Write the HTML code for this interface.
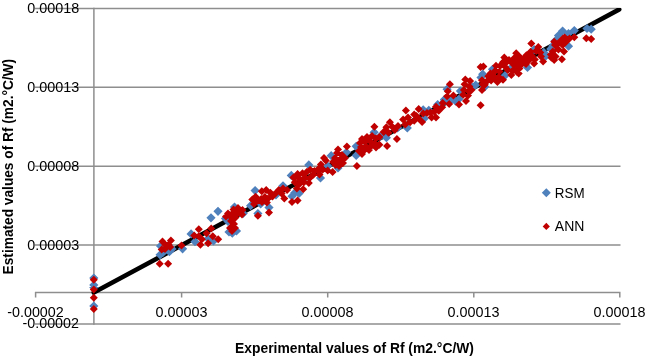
<!DOCTYPE html>
<html><head><meta charset="utf-8"><style>
html,body{margin:0;padding:0;background:#fff;}
body{width:646px;height:358px;overflow:hidden;}
svg{display:block;will-change:transform;}
text{font-family:"Liberation Sans",sans-serif;fill:#000;}
.t{font-size:14px;}
.b{font-size:14.2px;font-weight:bold;}
</style></head><body>
<svg width="646" height="358" viewBox="0 0 646 358">
<rect width="646" height="358" fill="#fff"/>
<g stroke="#8e8e8e" stroke-width="1.5" fill="none">
<path d="M35 8.4H620.5M35 87.3H620.5M35 166.2H620.5M35 245.1H620.5M35 324H620.5"/>
<path d="M93.9 7.7V324.7"/>
<path d="M35 292.6H620.5M35.6 292V297.6M181.6 292V297.6M327.7 292V297.6M473.8 292V297.6M619.8 292V297.6"/>
</g>
<g class="t" text-anchor="end">
<text x="79.3" y="12.8" textLength="52" lengthAdjust="spacingAndGlyphs">0.00018</text>
<text x="79.3" y="91.8" textLength="52" lengthAdjust="spacingAndGlyphs">0.00013</text>
<text x="79.3" y="170.8" textLength="52" lengthAdjust="spacingAndGlyphs">0.00008</text>
<text x="79.3" y="249.8" textLength="52" lengthAdjust="spacingAndGlyphs">0.00003</text>
<text x="79" y="328.4" textLength="56.5" lengthAdjust="spacingAndGlyphs">-0.00002</text>
</g>
<g class="t" text-anchor="middle">
<text x="35.5" y="317.4" textLength="56.5" lengthAdjust="spacingAndGlyphs">-0.00002</text>
<text x="181.5" y="317.4" textLength="52" lengthAdjust="spacingAndGlyphs">0.00003</text>
<text x="327.5" y="317.4" textLength="52" lengthAdjust="spacingAndGlyphs">0.00008</text>
<text x="473.5" y="317.4" textLength="52" lengthAdjust="spacingAndGlyphs">0.00013</text>
<text x="619.5" y="317.4" textLength="52" lengthAdjust="spacingAndGlyphs">0.00018</text>
</g>
<text class="b" id="xt" x="235" textLength="239" lengthAdjust="spacingAndGlyphs" y="352.7">Experimental values of Rf (m2.°C/W)</text>
<text class="b" id="yt" textLength="215.5" lengthAdjust="spacingAndGlyphs" transform="translate(13.2 274.4) rotate(-90)">Estimated values of Rf (m2.°C/W)</text>
<clipPath id="pa"><rect x="30" y="8" width="600" height="320"/></clipPath>
<path clip-path="url(#pa)" d="M93.8 292.6L619.2 9.4" stroke="#000" stroke-width="4.6" stroke-linecap="round" fill="none"/>
<path fill="#4F81BD" d="M182.6 244.2l4.6 4.6 -4.6 4.6 -4.6 -4.6zM218.0 206.7l4.6 4.6 -4.6 4.6 -4.6 -4.6zM211.0 213.2l4.6 4.6 -4.6 4.6 -4.6 -4.6zM93.8 273.4l4.6 4.6 -4.6 4.6 -4.6 -4.6zM93.8 280.4l4.6 4.6 -4.6 4.6 -4.6 -4.6zM93.8 282.9l4.6 4.6 -4.6 4.6 -4.6 -4.6zM93.8 301.4l4.6 4.6 -4.6 4.6 -4.6 -4.6zM374.1 127.7l4.6 4.6 -4.6 4.6 -4.6 -4.6zM356.2 141.7l4.6 4.6 -4.6 4.6 -4.6 -4.6zM356.2 150.9l4.6 4.6 -4.6 4.6 -4.6 -4.6zM255.1 186.0l4.6 4.6 -4.6 4.6 -4.6 -4.6zM250.6 201.1l4.6 4.6 -4.6 4.6 -4.6 -4.6zM260.7 199.4l4.6 4.6 -4.6 4.6 -4.6 -4.6zM257.9 208.9l4.6 4.6 -4.6 4.6 -4.6 -4.6zM308.8 160.3l4.6 4.6 -4.6 4.6 -4.6 -4.6zM291.3 170.8l4.6 4.6 -4.6 4.6 -4.6 -4.6zM294.8 188.2l4.6 4.6 -4.6 4.6 -4.6 -4.6zM292.0 191.7l4.6 4.6 -4.6 4.6 -4.6 -4.6zM299.0 188.9l4.6 4.6 -4.6 4.6 -4.6 -4.6zM283.0 181.2l4.6 4.6 -4.6 4.6 -4.6 -4.6zM276.0 190.3l4.6 4.6 -4.6 4.6 -4.6 -4.6zM269.0 202.9l4.6 4.6 -4.6 4.6 -4.6 -4.6zM346.4 147.7l4.6 4.6 -4.6 4.6 -4.6 -4.6zM331.2 151.1l4.6 4.6 -4.6 4.6 -4.6 -4.6zM327.7 161.4l4.6 4.6 -4.6 4.6 -4.6 -4.6zM338.0 163.4l4.6 4.6 -4.6 4.6 -4.6 -4.6zM407.3 123.3l4.6 4.6 -4.6 4.6 -4.6 -4.6zM397.6 123.4l4.6 4.6 -4.6 4.6 -4.6 -4.6zM380.1 131.7l4.6 4.6 -4.6 4.6 -4.6 -4.6zM386.4 133.1l4.6 4.6 -4.6 4.6 -4.6 -4.6zM424.3 113.9l4.6 4.6 -4.6 4.6 -4.6 -4.6zM444.4 94.9l4.6 4.6 -4.6 4.6 -4.6 -4.6zM423.2 105.2l4.6 4.6 -4.6 4.6 -4.6 -4.6zM428.8 105.7l4.6 4.6 -4.6 4.6 -4.6 -4.6zM437.7 99.9l4.6 4.6 -4.6 4.6 -4.6 -4.6zM444.4 96.6l4.6 4.6 -4.6 4.6 -4.6 -4.6zM475.7 80.4l4.6 4.6 -4.6 4.6 -4.6 -4.6zM472.2 82.5l4.6 4.6 -4.6 4.6 -4.6 -4.6zM447.1 84.6l4.6 4.6 -4.6 4.6 -4.6 -4.6zM451.3 95.1l4.6 4.6 -4.6 4.6 -4.6 -4.6zM455.5 96.5l4.6 4.6 -4.6 4.6 -4.6 -4.6zM459.0 94.4l4.6 4.6 -4.6 4.6 -4.6 -4.6zM460.4 86.4l4.6 4.6 -4.6 4.6 -4.6 -4.6zM481.0 72.9l4.6 4.6 -4.6 4.6 -4.6 -4.6zM511.3 63.3l4.6 4.6 -4.6 4.6 -4.6 -4.6zM505.0 71.0l4.6 4.6 -4.6 4.6 -4.6 -4.6zM492.5 64.7l4.6 4.6 -4.6 4.6 -4.6 -4.6zM482.7 69.6l4.6 4.6 -4.6 4.6 -4.6 -4.6zM484.8 82.2l4.6 4.6 -4.6 4.6 -4.6 -4.6zM550.8 44.3l4.6 4.6 -4.6 4.6 -4.6 -4.6zM534.1 45.0l4.6 4.6 -4.6 4.6 -4.6 -4.6zM543.8 47.8l4.6 4.6 -4.6 4.6 -4.6 -4.6zM545.9 51.3l4.6 4.6 -4.6 4.6 -4.6 -4.6zM587.0 23.9l4.6 4.6 -4.6 4.6 -4.6 -4.6zM591.2 24.6l4.6 4.6 -4.6 4.6 -4.6 -4.6zM552.8 41.3l4.6 4.6 -4.6 4.6 -4.6 -4.6zM551.4 44.8l4.6 4.6 -4.6 4.6 -4.6 -4.6zM160.1 250.2l4.6 4.6 -4.6 4.6 -4.6 -4.6zM169.4 247.1l4.6 4.6 -4.6 4.6 -4.6 -4.6zM160.5 241.4l4.6 4.6 -4.6 4.6 -4.6 -4.6zM163.0 247.9l4.6 4.6 -4.6 4.6 -4.6 -4.6zM172.0 244.4l4.6 4.6 -4.6 4.6 -4.6 -4.6zM191.1 229.3l4.6 4.6 -4.6 4.6 -4.6 -4.6zM195.0 237.1l4.6 4.6 -4.6 4.6 -4.6 -4.6zM208.1 234.0l4.6 4.6 -4.6 4.6 -4.6 -4.6zM213.5 236.3l4.6 4.6 -4.6 4.6 -4.6 -4.6zM234.5 202.4l4.6 4.6 -4.6 4.6 -4.6 -4.6zM225.5 213.9l4.6 4.6 -4.6 4.6 -4.6 -4.6zM243.2 208.9l4.6 4.6 -4.6 4.6 -4.6 -4.6zM232.3 228.6l4.6 4.6 -4.6 4.6 -4.6 -4.6zM229.0 227.4l4.6 4.6 -4.6 4.6 -4.6 -4.6zM236.5 226.4l4.6 4.6 -4.6 4.6 -4.6 -4.6zM228.0 216.9l4.6 4.6 -4.6 4.6 -4.6 -4.6zM562.6 26.4l4.6 4.6 -4.6 4.6 -4.6 -4.6zM574.3 26.0l4.6 4.6 -4.6 4.6 -4.6 -4.6zM568.5 28.9l4.6 4.6 -4.6 4.6 -4.6 -4.6zM558.5 30.9l4.6 4.6 -4.6 4.6 -4.6 -4.6zM555.0 36.4l4.6 4.6 -4.6 4.6 -4.6 -4.6zM552.8 41.3l4.6 4.6 -4.6 4.6 -4.6 -4.6zM568.5 41.6l4.6 4.6 -4.6 4.6 -4.6 -4.6zM320.5 173.4l4.6 4.6 -4.6 4.6 -4.6 -4.6zM527.5 62.9l4.6 4.6 -4.6 4.6 -4.6 -4.6z"/>
<path fill="#C00000" d="M181.5 241.4l4.0 4.0 -4.0 4.0 -4.0 -4.0zM159.7 259.8l4.0 4.0 -4.0 4.0 -4.0 -4.0zM168.1 259.8l4.0 4.0 -4.0 4.0 -4.0 -4.0zM374.4 122.7l4.0 4.0 -4.0 4.0 -4.0 -4.0zM356.9 162.1l4.0 4.0 -4.0 4.0 -4.0 -4.0zM93.8 285.5l4.0 4.0 -4.0 4.0 -4.0 -4.0zM93.8 293.8l4.0 4.0 -4.0 4.0 -4.0 -4.0zM93.8 305.0l4.0 4.0 -4.0 4.0 -4.0 -4.0zM313.4 170.7l4.0 4.0 -4.0 4.0 -4.0 -4.0zM362.0 135.0l4.0 4.0 -4.0 4.0 -4.0 -4.0zM367.0 133.0l4.0 4.0 -4.0 4.0 -4.0 -4.0zM372.0 132.0l4.0 4.0 -4.0 4.0 -4.0 -4.0zM376.0 134.5l4.0 4.0 -4.0 4.0 -4.0 -4.0zM360.0 139.0l4.0 4.0 -4.0 4.0 -4.0 -4.0zM365.0 138.0l4.0 4.0 -4.0 4.0 -4.0 -4.0zM370.0 137.0l4.0 4.0 -4.0 4.0 -4.0 -4.0zM375.0 139.0l4.0 4.0 -4.0 4.0 -4.0 -4.0zM361.0 143.0l4.0 4.0 -4.0 4.0 -4.0 -4.0zM366.0 142.5l4.0 4.0 -4.0 4.0 -4.0 -4.0zM371.0 142.0l4.0 4.0 -4.0 4.0 -4.0 -4.0zM376.0 143.5l4.0 4.0 -4.0 4.0 -4.0 -4.0zM359.0 147.0l4.0 4.0 -4.0 4.0 -4.0 -4.0zM364.0 146.5l4.0 4.0 -4.0 4.0 -4.0 -4.0zM369.0 146.0l4.0 4.0 -4.0 4.0 -4.0 -4.0zM362.0 150.0l4.0 4.0 -4.0 4.0 -4.0 -4.0zM261.8 187.2l4.0 4.0 -4.0 4.0 -4.0 -4.0zM255.6 192.8l4.0 4.0 -4.0 4.0 -4.0 -4.0zM252.3 195.6l4.0 4.0 -4.0 4.0 -4.0 -4.0zM256.8 197.2l4.0 4.0 -4.0 4.0 -4.0 -4.0zM254.0 200.0l4.0 4.0 -4.0 4.0 -4.0 -4.0zM261.2 195.0l4.0 4.0 -4.0 4.0 -4.0 -4.0zM269.0 208.4l4.0 4.0 -4.0 4.0 -4.0 -4.0zM257.9 211.8l4.0 4.0 -4.0 4.0 -4.0 -4.0zM297.6 170.0l4.0 4.0 -4.0 4.0 -4.0 -4.0zM293.4 173.5l4.0 4.0 -4.0 4.0 -4.0 -4.0zM302.5 169.3l4.0 4.0 -4.0 4.0 -4.0 -4.0zM306.7 167.9l4.0 4.0 -4.0 4.0 -4.0 -4.0zM310.2 165.8l4.0 4.0 -4.0 4.0 -4.0 -4.0zM299.7 174.9l4.0 4.0 -4.0 4.0 -4.0 -4.0zM305.3 173.5l4.0 4.0 -4.0 4.0 -4.0 -4.0zM309.5 174.2l4.0 4.0 -4.0 4.0 -4.0 -4.0zM294.8 178.3l4.0 4.0 -4.0 4.0 -4.0 -4.0zM299.0 180.4l4.0 4.0 -4.0 4.0 -4.0 -4.0zM303.9 178.3l4.0 4.0 -4.0 4.0 -4.0 -4.0zM308.8 179.0l4.0 4.0 -4.0 4.0 -4.0 -4.0zM303.2 185.3l4.0 4.0 -4.0 4.0 -4.0 -4.0zM296.9 184.6l4.0 4.0 -4.0 4.0 -4.0 -4.0zM292.0 197.9l4.0 4.0 -4.0 4.0 -4.0 -4.0zM297.6 196.5l4.0 4.0 -4.0 4.0 -4.0 -4.0zM278.8 186.0l4.0 4.0 -4.0 4.0 -4.0 -4.0zM283.0 184.6l4.0 4.0 -4.0 4.0 -4.0 -4.0zM287.1 186.0l4.0 4.0 -4.0 4.0 -4.0 -4.0zM281.6 189.5l4.0 4.0 -4.0 4.0 -4.0 -4.0zM284.3 194.4l4.0 4.0 -4.0 4.0 -4.0 -4.0zM266.2 186.0l4.0 4.0 -4.0 4.0 -4.0 -4.0zM270.4 188.8l4.0 4.0 -4.0 4.0 -4.0 -4.0zM264.8 193.0l4.0 4.0 -4.0 4.0 -4.0 -4.0zM266.9 198.6l4.0 4.0 -4.0 4.0 -4.0 -4.0zM346.9 142.4l4.0 4.0 -4.0 4.0 -4.0 -4.0zM325.8 156.6l4.0 4.0 -4.0 4.0 -4.0 -4.0zM320.9 160.5l4.0 4.0 -4.0 4.0 -4.0 -4.0zM317.9 165.4l4.0 4.0 -4.0 4.0 -4.0 -4.0zM322.8 165.4l4.0 4.0 -4.0 4.0 -4.0 -4.0zM327.7 166.4l4.0 4.0 -4.0 4.0 -4.0 -4.0zM332.6 167.9l4.0 4.0 -4.0 4.0 -4.0 -4.0zM337.0 149.0l4.0 4.0 -4.0 4.0 -4.0 -4.0zM342.0 151.0l4.0 4.0 -4.0 4.0 -4.0 -4.0zM335.0 154.0l4.0 4.0 -4.0 4.0 -4.0 -4.0zM340.0 155.5l4.0 4.0 -4.0 4.0 -4.0 -4.0zM345.0 154.0l4.0 4.0 -4.0 4.0 -4.0 -4.0zM333.0 158.0l4.0 4.0 -4.0 4.0 -4.0 -4.0zM338.0 159.0l4.0 4.0 -4.0 4.0 -4.0 -4.0zM343.0 159.0l4.0 4.0 -4.0 4.0 -4.0 -4.0zM339.0 162.0l4.0 4.0 -4.0 4.0 -4.0 -4.0zM335.5 161.0l4.0 4.0 -4.0 4.0 -4.0 -4.0zM338.0 145.5l4.0 4.0 -4.0 4.0 -4.0 -4.0zM405.9 106.5l4.0 4.0 -4.0 4.0 -4.0 -4.0zM403.1 115.6l4.0 4.0 -4.0 4.0 -4.0 -4.0zM408.0 113.5l4.0 4.0 -4.0 4.0 -4.0 -4.0zM405.2 120.4l4.0 4.0 -4.0 4.0 -4.0 -4.0zM410.1 118.3l4.0 4.0 -4.0 4.0 -4.0 -4.0zM389.9 118.3l4.0 4.0 -4.0 4.0 -4.0 -4.0zM386.4 123.2l4.0 4.0 -4.0 4.0 -4.0 -4.0zM392.0 122.5l4.0 4.0 -4.0 4.0 -4.0 -4.0zM383.6 128.1l4.0 4.0 -4.0 4.0 -4.0 -4.0zM388.5 128.8l4.0 4.0 -4.0 4.0 -4.0 -4.0zM394.8 126.0l4.0 4.0 -4.0 4.0 -4.0 -4.0zM379.4 133.0l4.0 4.0 -4.0 4.0 -4.0 -4.0zM396.9 135.1l4.0 4.0 -4.0 4.0 -4.0 -4.0zM387.1 142.1l4.0 4.0 -4.0 4.0 -4.0 -4.0zM379.4 140.7l4.0 4.0 -4.0 4.0 -4.0 -4.0zM398.0 122.0l4.0 4.0 -4.0 4.0 -4.0 -4.0zM418.7 105.0l4.0 4.0 -4.0 4.0 -4.0 -4.0zM423.2 109.5l4.0 4.0 -4.0 4.0 -4.0 -4.0zM414.2 110.6l4.0 4.0 -4.0 4.0 -4.0 -4.0zM418.7 114.5l4.0 4.0 -4.0 4.0 -4.0 -4.0zM414.2 116.8l4.0 4.0 -4.0 4.0 -4.0 -4.0zM422.1 117.9l4.0 4.0 -4.0 4.0 -4.0 -4.0zM430.4 108.4l4.0 4.0 -4.0 4.0 -4.0 -4.0zM431.6 113.4l4.0 4.0 -4.0 4.0 -4.0 -4.0zM436.0 113.4l4.0 4.0 -4.0 4.0 -4.0 -4.0zM427.0 109.0l4.0 4.0 -4.0 4.0 -4.0 -4.0zM436.0 102.8l4.0 4.0 -4.0 4.0 -4.0 -4.0zM438.8 106.7l4.0 4.0 -4.0 4.0 -4.0 -4.0zM434.3 107.8l4.0 4.0 -4.0 4.0 -4.0 -4.0zM442.7 98.9l4.0 4.0 -4.0 4.0 -4.0 -4.0zM442.2 103.3l4.0 4.0 -4.0 4.0 -4.0 -4.0zM416.5 112.0l4.0 4.0 -4.0 4.0 -4.0 -4.0zM480.6 62.9l4.0 4.0 -4.0 4.0 -4.0 -4.0zM482.0 76.2l4.0 4.0 -4.0 4.0 -4.0 -4.0zM482.7 80.3l4.0 4.0 -4.0 4.0 -4.0 -4.0zM482.0 85.9l4.0 4.0 -4.0 4.0 -4.0 -4.0zM480.6 101.3l4.0 4.0 -4.0 4.0 -4.0 -4.0zM465.3 75.5l4.0 4.0 -4.0 4.0 -4.0 -4.0zM470.1 76.9l4.0 4.0 -4.0 4.0 -4.0 -4.0zM464.6 80.3l4.0 4.0 -4.0 4.0 -4.0 -4.0zM469.4 82.4l4.0 4.0 -4.0 4.0 -4.0 -4.0zM463.9 85.9l4.0 4.0 -4.0 4.0 -4.0 -4.0zM468.7 87.3l4.0 4.0 -4.0 4.0 -4.0 -4.0zM463.2 90.8l4.0 4.0 -4.0 4.0 -4.0 -4.0zM468.0 91.5l4.0 4.0 -4.0 4.0 -4.0 -4.0zM466.0 97.1l4.0 4.0 -4.0 4.0 -4.0 -4.0zM471.5 85.9l4.0 4.0 -4.0 4.0 -4.0 -4.0zM449.9 80.3l4.0 4.0 -4.0 4.0 -4.0 -4.0zM447.8 87.3l4.0 4.0 -4.0 4.0 -4.0 -4.0zM453.4 91.5l4.0 4.0 -4.0 4.0 -4.0 -4.0zM447.1 92.2l4.0 4.0 -4.0 4.0 -4.0 -4.0zM449.2 99.9l4.0 4.0 -4.0 4.0 -4.0 -4.0zM459.0 100.6l4.0 4.0 -4.0 4.0 -4.0 -4.0zM516.2 49.3l4.0 4.0 -4.0 4.0 -4.0 -4.0zM514.1 54.2l4.0 4.0 -4.0 4.0 -4.0 -4.0zM512.7 59.7l4.0 4.0 -4.0 4.0 -4.0 -4.0zM517.6 62.5l4.0 4.0 -4.0 4.0 -4.0 -4.0zM513.4 66.0l4.0 4.0 -4.0 4.0 -4.0 -4.0zM511.3 70.9l4.0 4.0 -4.0 4.0 -4.0 -4.0zM516.9 68.1l4.0 4.0 -4.0 4.0 -4.0 -4.0zM504.3 53.5l4.0 4.0 -4.0 4.0 -4.0 -4.0zM507.1 57.6l4.0 4.0 -4.0 4.0 -4.0 -4.0zM503.0 58.3l4.0 4.0 -4.0 4.0 -4.0 -4.0zM505.0 62.5l4.0 4.0 -4.0 4.0 -4.0 -4.0zM507.8 66.0l4.0 4.0 -4.0 4.0 -4.0 -4.0zM503.0 75.8l4.0 4.0 -4.0 4.0 -4.0 -4.0zM498.8 73.0l4.0 4.0 -4.0 4.0 -4.0 -4.0zM496.0 61.8l4.0 4.0 -4.0 4.0 -4.0 -4.0zM495.3 66.7l4.0 4.0 -4.0 4.0 -4.0 -4.0zM499.5 67.4l4.0 4.0 -4.0 4.0 -4.0 -4.0zM490.4 69.5l4.0 4.0 -4.0 4.0 -4.0 -4.0zM488.3 72.3l4.0 4.0 -4.0 4.0 -4.0 -4.0zM494.6 73.0l4.0 4.0 -4.0 4.0 -4.0 -4.0zM491.1 76.5l4.0 4.0 -4.0 4.0 -4.0 -4.0zM486.2 77.9l4.0 4.0 -4.0 4.0 -4.0 -4.0zM497.4 77.9l4.0 4.0 -4.0 4.0 -4.0 -4.0zM483.4 62.5l4.0 4.0 -4.0 4.0 -4.0 -4.0zM484.8 80.7l4.0 4.0 -4.0 4.0 -4.0 -4.0zM531.3 39.4l4.0 4.0 -4.0 4.0 -4.0 -4.0zM538.3 42.9l4.0 4.0 -4.0 4.0 -4.0 -4.0zM536.2 47.0l4.0 4.0 -4.0 4.0 -4.0 -4.0zM540.3 48.4l4.0 4.0 -4.0 4.0 -4.0 -4.0zM530.6 47.7l4.0 4.0 -4.0 4.0 -4.0 -4.0zM526.4 51.2l4.0 4.0 -4.0 4.0 -4.0 -4.0zM532.0 51.9l4.0 4.0 -4.0 4.0 -4.0 -4.0zM534.8 55.4l4.0 4.0 -4.0 4.0 -4.0 -4.0zM529.2 56.1l4.0 4.0 -4.0 4.0 -4.0 -4.0zM523.6 55.4l4.0 4.0 -4.0 4.0 -4.0 -4.0zM520.1 53.3l4.0 4.0 -4.0 4.0 -4.0 -4.0zM520.8 60.3l4.0 4.0 -4.0 4.0 -4.0 -4.0zM534.1 59.6l4.0 4.0 -4.0 4.0 -4.0 -4.0zM543.1 57.5l4.0 4.0 -4.0 4.0 -4.0 -4.0zM541.0 52.6l4.0 4.0 -4.0 4.0 -4.0 -4.0zM519.4 64.5l4.0 4.0 -4.0 4.0 -4.0 -4.0zM518.7 69.4l4.0 4.0 -4.0 4.0 -4.0 -4.0zM550.8 50.5l4.0 4.0 -4.0 4.0 -4.0 -4.0zM558.4 45.4l4.0 4.0 -4.0 4.0 -4.0 -4.0zM564.0 47.5l4.0 4.0 -4.0 4.0 -4.0 -4.0zM552.8 47.5l4.0 4.0 -4.0 4.0 -4.0 -4.0zM555.6 52.4l4.0 4.0 -4.0 4.0 -4.0 -4.0zM551.4 53.8l4.0 4.0 -4.0 4.0 -4.0 -4.0zM561.9 55.2l4.0 4.0 -4.0 4.0 -4.0 -4.0zM554.2 55.9l4.0 4.0 -4.0 4.0 -4.0 -4.0zM586.3 34.3l4.0 4.0 -4.0 4.0 -4.0 -4.0zM591.2 35.0l4.0 4.0 -4.0 4.0 -4.0 -4.0zM162.5 237.5l4.0 4.0 -4.0 4.0 -4.0 -4.0zM170.9 236.4l4.0 4.0 -4.0 4.0 -4.0 -4.0zM168.6 240.8l4.0 4.0 -4.0 4.0 -4.0 -4.0zM170.2 243.1l4.0 4.0 -4.0 4.0 -4.0 -4.0zM161.7 245.4l4.0 4.0 -4.0 4.0 -4.0 -4.0zM165.5 241.0l4.0 4.0 -4.0 4.0 -4.0 -4.0zM165.0 245.0l4.0 4.0 -4.0 4.0 -4.0 -4.0zM198.8 225.3l4.0 4.0 -4.0 4.0 -4.0 -4.0zM194.2 231.5l4.0 4.0 -4.0 4.0 -4.0 -4.0zM198.8 232.3l4.0 4.0 -4.0 4.0 -4.0 -4.0zM201.9 235.3l4.0 4.0 -4.0 4.0 -4.0 -4.0zM206.6 229.2l4.0 4.0 -4.0 4.0 -4.0 -4.0zM211.2 224.5l4.0 4.0 -4.0 4.0 -4.0 -4.0zM212.8 232.3l4.0 4.0 -4.0 4.0 -4.0 -4.0zM218.2 235.3l4.0 4.0 -4.0 4.0 -4.0 -4.0zM208.1 239.2l4.0 4.0 -4.0 4.0 -4.0 -4.0zM200.4 240.8l4.0 4.0 -4.0 4.0 -4.0 -4.0zM233.5 205.5l4.0 4.0 -4.0 4.0 -4.0 -4.0zM238.0 204.0l4.0 4.0 -4.0 4.0 -4.0 -4.0zM242.5 206.0l4.0 4.0 -4.0 4.0 -4.0 -4.0zM228.0 209.5l4.0 4.0 -4.0 4.0 -4.0 -4.0zM233.0 209.0l4.0 4.0 -4.0 4.0 -4.0 -4.0zM238.0 209.0l4.0 4.0 -4.0 4.0 -4.0 -4.0zM242.0 210.5l4.0 4.0 -4.0 4.0 -4.0 -4.0zM226.0 212.5l4.0 4.0 -4.0 4.0 -4.0 -4.0zM231.0 213.0l4.0 4.0 -4.0 4.0 -4.0 -4.0zM235.5 213.5l4.0 4.0 -4.0 4.0 -4.0 -4.0zM231.0 217.0l4.0 4.0 -4.0 4.0 -4.0 -4.0zM234.0 220.0l4.0 4.0 -4.0 4.0 -4.0 -4.0zM230.0 224.0l4.0 4.0 -4.0 4.0 -4.0 -4.0zM235.0 224.0l4.0 4.0 -4.0 4.0 -4.0 -4.0zM232.0 227.0l4.0 4.0 -4.0 4.0 -4.0 -4.0zM240.7 208.8l4.0 4.0 -4.0 4.0 -4.0 -4.0zM237.3 205.5l4.0 4.0 -4.0 4.0 -4.0 -4.0zM564.7 33.6l4.0 4.0 -4.0 4.0 -4.0 -4.0zM574.3 33.2l4.0 4.0 -4.0 4.0 -4.0 -4.0zM566.8 36.9l4.0 4.0 -4.0 4.0 -4.0 -4.0zM558.4 39.5l4.0 4.0 -4.0 4.0 -4.0 -4.0zM555.0 41.1l4.0 4.0 -4.0 4.0 -4.0 -4.0zM562.6 41.1l4.0 4.0 -4.0 4.0 -4.0 -4.0zM560.5 37.0l4.0 4.0 -4.0 4.0 -4.0 -4.0zM565.4 38.4l4.0 4.0 -4.0 4.0 -4.0 -4.0zM563.0 34.5l4.0 4.0 -4.0 4.0 -4.0 -4.0zM557.0 40.5l4.0 4.0 -4.0 4.0 -4.0 -4.0zM554.2 37.7l4.0 4.0 -4.0 4.0 -4.0 -4.0zM569.5 34.5l4.0 4.0 -4.0 4.0 -4.0 -4.0zM319.5 170.5l4.0 4.0 -4.0 4.0 -4.0 -4.0zM314.5 167.0l4.0 4.0 -4.0 4.0 -4.0 -4.0zM324.0 154.0l4.0 4.0 -4.0 4.0 -4.0 -4.0zM268.0 194.5l4.0 4.0 -4.0 4.0 -4.0 -4.0zM272.5 192.5l4.0 4.0 -4.0 4.0 -4.0 -4.0zM262.0 198.0l4.0 4.0 -4.0 4.0 -4.0 -4.0zM276.0 189.0l4.0 4.0 -4.0 4.0 -4.0 -4.0zM517.0 57.5l4.0 4.0 -4.0 4.0 -4.0 -4.0zM521.0 61.0l4.0 4.0 -4.0 4.0 -4.0 -4.0zM526.0 60.0l4.0 4.0 -4.0 4.0 -4.0 -4.0zM509.0 56.0l4.0 4.0 -4.0 4.0 -4.0 -4.0zM500.0 62.0l4.0 4.0 -4.0 4.0 -4.0 -4.0zM93.8 275.7l4.0 4.0 -4.0 4.0 -4.0 -4.0z"/>
<path fill="#4F81BD" d="M546.3 188.3l4.5 4.5-4.5 4.5-4.5-4.5z"/>
<path fill="#C00000" d="M546.3 222.8l3.6 3.6-3.6 3.6-3.6-3.6z"/>
<g class="t"><text x="554.8" y="197.9" textLength="29.8" lengthAdjust="spacingAndGlyphs">RSM</text><text x="554.8" y="231.2" textLength="29.6" lengthAdjust="spacingAndGlyphs">ANN</text></g>
</svg>
</body></html>
